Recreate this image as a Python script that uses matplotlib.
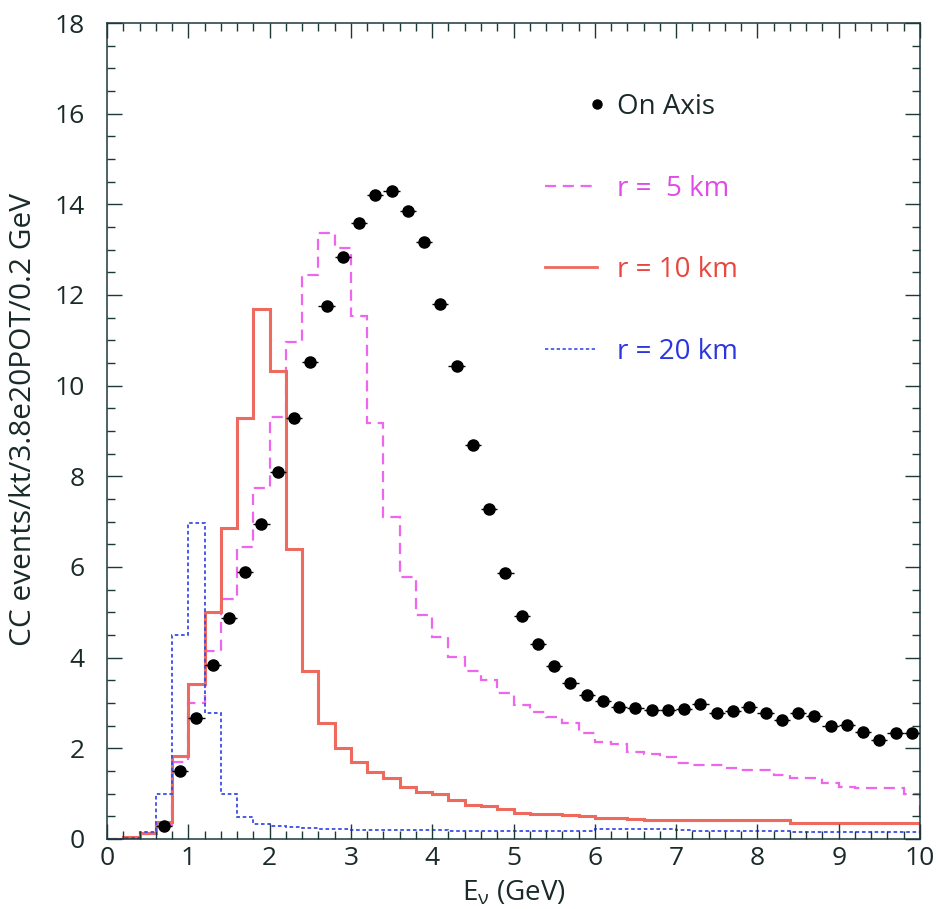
import numpy as np
import matplotlib
matplotlib.use('Agg')
import matplotlib.pyplot as plt
from matplotlib.lines import Line2D
from matplotlib.legend_handler import HandlerBase
from matplotlib.ticker import MultipleLocator

# ---------------- data ----------------
bin_edges = np.linspace(0, 10, 51)          # 0.2 GeV bins

r5_counts = [0.0, 0.03, 0.10, 0.30, 1.70, 3.00, 4.14, 5.29, 6.45, 7.75,
             9.30, 10.97, 12.44, 13.37, 13.04, 11.54, 9.18, 7.11, 5.77, 4.95,
             4.46, 4.01, 3.71, 3.50, 3.22, 2.95, 2.80, 2.69, 2.56, 2.34,
             2.14, 2.10, 1.92, 1.87, 1.81, 1.68, 1.63, 1.63, 1.56, 1.52,
             1.52, 1.41, 1.34, 1.34, 1.23, 1.15, 1.12, 1.12, 1.12, 0.99]

r10_counts = [0.0, 0.05, 0.13, 0.37, 1.83, 3.41, 5.00, 6.87, 9.29, 11.70,
              10.33, 6.39, 3.70, 2.55, 2.00, 1.70, 1.48, 1.34, 1.15, 1.04,
              1.00, 0.87, 0.76, 0.73, 0.66, 0.58, 0.55, 0.55, 0.52, 0.50,
              0.47, 0.46, 0.45, 0.42, 0.42, 0.42, 0.42, 0.42, 0.42, 0.42,
              0.42, 0.42, 0.36, 0.36, 0.36, 0.36, 0.36, 0.36, 0.36, 0.36]

r20_counts = [0.0, 0.03, 0.15, 1.00, 4.50, 6.96, 2.77, 1.00, 0.48, 0.33,
              0.28, 0.26, 0.24, 0.22, 0.21, 0.20, 0.20, 0.20, 0.19, 0.19,
              0.19, 0.18, 0.18, 0.18, 0.18, 0.18, 0.18, 0.18, 0.18, 0.18,
              0.22, 0.22, 0.22, 0.22, 0.22, 0.20, 0.18, 0.18, 0.17, 0.17,
              0.17, 0.17, 0.16, 0.16, 0.16, 0.16, 0.16, 0.15, 0.15, 0.15]

first_onaxis_bin = 3
onaxis_counts = [0.29, 1.50, 2.67, 3.84, 4.88, 5.89, 6.95, 8.10, 9.29, 10.52,
                 11.76, 12.84, 13.59, 14.21, 14.30, 13.85, 13.17, 11.80, 10.43, 8.69,
                 7.28, 5.87, 4.92, 4.30, 3.82, 3.44, 3.18, 3.04, 2.91, 2.89,
                 2.85, 2.85, 2.87, 2.98, 2.78, 2.82, 2.91, 2.78, 2.62, 2.78,
                 2.71, 2.49, 2.51, 2.36, 2.18, 2.34, 2.34]

labels = ['On Axis', 'r =  5 km', 'r = 10 km', 'r = 20 km']

# ---------------- style ----------------
plt.rcParams['font.family'] = ['Open Sans', 'DejaVu Sans']
plt.rcParams['mathtext.fontset'] = 'custom'
plt.rcParams['mathtext.rm'] = 'Open Sans'
plt.rcParams['mathtext.it'] = 'Open Sans:italic'
plt.rcParams['mathtext.bf'] = 'Open Sans:bold'

c5 = '#ee66ee'
c10 = '#ef6a5e'
c20 = '#3a4ee6'
frame = '#1d3838'
txt = '#1a2a2a'

fig = plt.figure(figsize=(9.39, 9.09), dpi=100)
ax = fig.add_axes([107/939, 1-839/909, (920-107)/939, (839-23)/909])

ls5 = (0, (5, 3))
ls20 = (0, (2, 1.5))
ax.stairs(r5_counts, bin_edges, color=c5, lw=1.6, ls=ls5)
ax.stairs(r10_counts, bin_edges, color=c10, lw=2.2)
ax.stairs(r20_counts, bin_edges, color=c20, lw=1.3, ls=ls20)

centers = 0.5 * (bin_edges[:-1] + bin_edges[1:])
half_w = 0.5 * np.diff(bin_edges)
sl = slice(first_onaxis_bin, first_onaxis_bin + len(onaxis_counts))
ax.errorbar(centers[sl], onaxis_counts, xerr=half_w[sl], fmt='o', color='black',
            ms=8, elinewidth=1.0, capsize=0, zorder=5)

ax.set_xlim(0, 10)
ax.set_ylim(0, 18)
ax.xaxis.set_major_locator(MultipleLocator(1))
ax.xaxis.set_minor_locator(MultipleLocator(0.2))
ax.yaxis.set_major_locator(MultipleLocator(2))
ax.yaxis.set_minor_locator(MultipleLocator(0.5))
ax.tick_params(which='both', direction='in', top=True, right=True,
               color=frame, labelcolor=txt, width=1)
ax.tick_params(which='major', length=11)
ax.tick_params(which='minor', length=6)
ax.tick_params(axis='y', pad=16, labelsize=19)
ax.tick_params(axis='x', pad=5, labelsize=19)
for s in ax.spines.values():
    s.set_color(frame)
    s.set_linewidth(1.1)

ax.set_xlabel(r'$\mathregular{E_{\nu}}$ (GeV)', fontsize=20, color=txt)
ax.xaxis.set_label_coords(0.5, (839-879)/816)
ax.set_ylabel('CC events/kt/3.8e20POT/0.2 GeV', fontsize=21.5, color=txt)
ax.yaxis.set_label_coords((38-107)/813, (839-420)/816)


class HandlerRightMarker(HandlerBase):
    def create_artists(self, legend, orig_handle, xdescent, ydescent,
                       width, height, fontsize, trans):
        mk = Line2D([width - xdescent], [(height - ydescent) / 2], ls='none',
                    marker=orig_handle.get_marker(),
                    color=orig_handle.get_color(),
                    ms=orig_handle.get_markersize(), transform=trans)
        return [mk]


h_on = Line2D([], [], ls='none', marker='o', color='black', ms=6.5)
h5 = Line2D([], [], color=c5, lw=1.6, ls=ls5)
h10 = Line2D([], [], color=c10, lw=2.0)
h20 = Line2D([], [], color=c20, lw=1.2, ls=ls20)
leg = ax.legend([h_on, h5, h10, h20], labels, loc='upper left',
                bbox_to_anchor=((545-107)/813, (839-93)/816),
                frameon=False, fontsize=20, labelspacing=1.93,
                handlelength=1.87, handletextpad=0.72, borderpad=0,
                borderaxespad=0,
                labelcolor=[txt, '#e04ae6', '#e8473f', '#2c36e0'],
                handler_map={h_on: HandlerRightMarker()})

fig.savefig('out.png', dpi=100)
